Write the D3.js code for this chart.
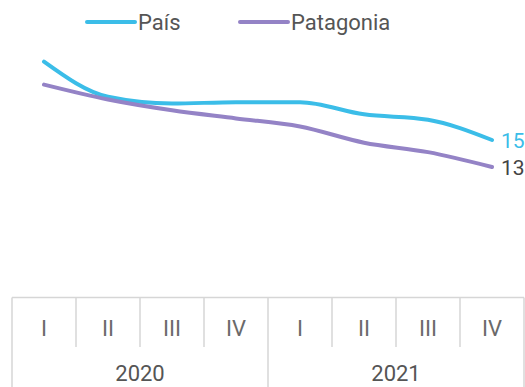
<!DOCTYPE html>
<html><head><meta charset="utf-8">
<script src="https://cdn.jsdelivr.net/npm/d3@7"></script>
<style>html,body{margin:0;padding:0;background:#fff;}svg{display:block;font-family:Roboto,"Noto Sans",sans-serif;}</style>
</head><body>
<svg id="c" width="525" height="387"></svg>
<script>
const quarters = ["I","II","III","IV","I","II","III","IV"];
const years = ["2020","2021"];
const pais = [20.8, 18.2, 17.7, 17.8, 17.8, 16.9, 16.5, 15.0];
const patagonia = [19.1, 18.0, 17.2, 16.6, 16.0, 14.8, 14.1, 13.0];
const seriesNames = ["País", "Patagonia"];
const colors = ["#3bbde8", "#9483c6"];

(function(){
const svg = d3.select("#c");
const idx = quarters.map((q,i)=>i);
const x = d3.scaleBand().domain(idx).range([12, 524]).padding(0);
const y = d3.scaleLinear().domain([10, 22]).range([207.5, 45.5]);

const line = d3.line().x((d,i)=>x(i)+x.bandwidth()/2).y(d=>y(d)).curve(d3.curveMonotoneX);
[pais, patagonia].forEach((s,k)=>{
  svg.append("path").attr("d", line(s)).attr("fill","none")
    .attr("stroke", colors[k]).attr("stroke-width",4).attr("stroke-linecap","round");
});
const lastI = quarters.length-1;
const lx = x(lastI)+x.bandwidth()/2+9;
svg.append("text").attr("x", lx).attr("y", y(pais[lastI]))
  .attr("dy","0.36em").attr("font-size",21).attr("fill","#3bbde8").text(d3.format("d")(pais[lastI]));
svg.append("text").attr("x", lx).attr("y", y(patagonia[lastI]))
  .attr("dy","0.36em").attr("font-size",21).attr("fill","#444").text(d3.format("d")(patagonia[lastI]));

const legX = [87, 240];
seriesNames.forEach((n,k)=>{
  svg.append("line").attr("x1",legX[k]).attr("x2",legX[k]+48).attr("y1",22).attr("y2",22)
    .attr("stroke",colors[k]).attr("stroke-width",4).attr("stroke-linecap","round");
  svg.append("text").attr("x",legX[k]+51).attr("y",22).attr("dy","0.35em")
    .attr("font-size",22).attr("fill","#555").text(n);
});

const yTop = 297.5, yMid = 347, yBot = 400;
const g = svg.append("g").attr("stroke","#d6d6d6").attr("stroke-width",1.5);
g.append("line").attr("x1",x(0)).attr("x2",x.range()[1]).attr("y1",yTop).attr("y2",yTop);
idx.forEach(i=>{
  const xx = x(i);
  const full = (i % 4 === 0);
  g.append("line").attr("x1",xx).attr("x2",xx).attr("y1",yTop).attr("y2", full?yBot:yMid);
});
g.append("line").attr("x1",x.range()[1]).attr("x2",x.range()[1]).attr("y1",yTop).attr("y2",yBot);

svg.append("g").selectAll("text").data(quarters).join("text")
  .attr("x",(d,i)=>x(i)+x.bandwidth()/2).attr("y",328).attr("dy","0.35em")
  .attr("text-anchor","middle").attr("font-size",22).attr("fill","#6a6a6a").text(d=>d);
svg.append("g").selectAll("text").data(years).join("text")
  .attr("x",(d,i)=>x(i*4)+x.bandwidth()*2).attr("y",373).attr("dy","0.35em")
  .attr("text-anchor","middle").attr("font-size",22).attr("fill","#555").text(d=>d);
})();
</script>
</body></html>
